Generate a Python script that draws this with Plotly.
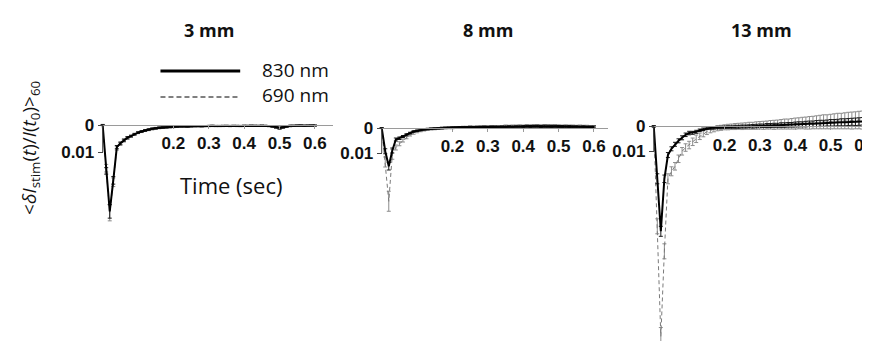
import plotly.graph_objects as go

# ---------------- data ----------------
TIME = [0.00, 0.01, 0.02, 0.03, 0.04, 0.05, 0.06, 0.07, 0.08, 0.09,
        0.10, 0.11, 0.12, 0.13, 0.14, 0.15, 0.16, 0.17, 0.18, 0.19,
        0.20, 0.21, 0.22, 0.23, 0.24, 0.25, 0.26, 0.27, 0.28, 0.29,
        0.30, 0.31, 0.32, 0.33, 0.34, 0.35, 0.36, 0.37, 0.38, 0.39,
        0.40, 0.41, 0.42, 0.43, 0.44, 0.45, 0.46, 0.47, 0.48, 0.49,
        0.50, 0.51, 0.52, 0.53, 0.54, 0.55, 0.56, 0.57, 0.58, 0.59,
        0.60]

PANELS = ["3 mm", "8 mm", "13 mm"]
SERIES = ["830 nm", "690 nm"]
X_TICKS = [0.2, 0.3, 0.4, 0.5, 0.6]
X_TICK_LABELS = ["0.2", "0.3", "0.4", "0.5", "0.6"]
Y_TICKS = [0, 0.01]
Y_TICK_LABELS = ["0", "0.01"]

# 3 mm
P1_830 = [0, .017, .032, .0205, .0082, .0068, .0056, .0047, .0041, .0034,
          .0028, .0024, .0020, .0017, .0014, .0012, .0010, .0009, .0008, .0007,
          .0006, .0006, .0005, .0005, .0006, .0005, .0004, .0004, .0005, .0004,
          .0004, .0003, .0004, .0004, .0003, .0003, .0004, .0003, .0003, .0004,
          .0003, .0003, .0002, .0003, .0003, .0002, .0003, .0004, .0005, .0008,
          .0011, .0008, .0005, .0003, .0003, .0002, .0002, .0003, .0002, .0002,
          .0002]
P1_690 = [0, .016, .0325, .0212, .0086, .0070, .0058, .0049, .0042, .0035,
          .0029, .0025, .0021, .0018, .0015, .0013, .0011, .0010, .0009, .0008,
          .0007, .0006, .0006, .0005, .0005, .0005, .0005, .0004, .0004, .0004,
          .0003, .0004, .0003, .0003, .0004, .0003, .0003, .0003, .0004, .0003,
          .0002, .0003, .0003, .0002, .0003, .0003, .0003, .0004, .0006, .0009,
          .0012, .0009, .0006, .0004, .0003, .0003, .0002, .0002, .0003, .0002,
          .0002]
E1_830 = [.0002, .0012, .0025, .0014, .0006, .0005, .0004, .0004, .0003, .0003,
          .0003, .0003, .0003, .0003, .0003, .0003, .0003, .0003, .0003, .0003,
          .0002, .0002, .0002, .0002, .0002, .0002, .0002, .0002, .0002, .0002,
          .0002, .0002, .0002, .0002, .0002, .0002, .0002, .0002, .0002, .0002,
          .0002, .0002, .0002, .0002, .0002, .0002, .0002, .0002, .0003, .0003,
          .0004, .0003, .0003, .0002, .0002, .0002, .0002, .0002, .0002, .0002,
          .0002]
E1_690 = [.0002, .0014, .0030, .0016, .0007, .0005, .0005, .0004, .0004, .0003,
          .0003, .0003, .0003, .0003, .0003, .0003, .0003, .0003, .0003, .0003,
          .0003, .0003, .0003, .0003, .0003, .0002, .0002, .0002, .0002, .0002,
          .0002, .0002, .0002, .0002, .0002, .0002, .0002, .0002, .0002, .0002,
          .0002, .0002, .0002, .0002, .0002, .0002, .0002, .0002, .0003, .0004,
          .0004, .0004, .0003, .0003, .0002, .0002, .0002, .0002, .0002, .0002,
          .0002]

# 8 mm
P2_830 = [0, .0093, .0153, .0090, .0046, .0041, .0034, .0027, .0020, .0014,
          .0011, .0008, .0005, .0004, .0003, .0002, .0001, 0, -.0001, -.0001,
          -.0002, -.0002, -.0003, -.0003, -.0003, -.0004, -.0003, -.0004, -.0004, -.0005,
          -.0004, -.0005, -.0005, -.0004, -.0005, -.0005, -.0006, -.0005, -.0006, -.0006,
          -.0006, -.0007, -.0006, -.0007, -.0007, -.0006, -.0007, -.0007, -.0006, -.0007,
          -.0006, -.0006, -.0005, -.0006, -.0005, -.0005, -.0004, -.0005, -.0004, -.0004,
          -.0004]
P2_690 = [0, .0136, .0293, .0105, .0078, .0063, .0050, .0038, .0028, .0021,
          .0015, .0011, .0008, .0006, .0004, .0003, .0002, .0001, 0, -.0001,
          -.0001, -.0002, -.0002, -.0003, -.0003, -.0004, -.0004, -.0004, -.0005, -.0005,
          -.0005, -.0006, -.0005, -.0006, -.0006, -.0007, -.0006, -.0007, -.0007, -.0008,
          -.0007, -.0008, -.0008, -.0008, -.0009, -.0008, -.0009, -.0008, -.0009, -.0008,
          -.0008, -.0007, -.0008, -.0007, -.0007, -.0006, -.0007, -.0006, -.0006, -.0005,
          -.0005]
E2_830 = [.0002, .0010, .0015, .0010, .0006, .0005, .0004, .0004, .0003, .0003,
          .0003, .0003, .0003, .0003, .0003, .0003, .0003, .0003, .0003, .0003,
          .0003, .0003, .0003, .0003, .0003, .0003, .0003, .0003, .0003, .0003,
          .0003, .0003, .0003, .0003, .0003, .0003, .0003, .0003, .0003, .0003,
          .0004, .0004, .0004, .0004, .0004, .0004, .0004, .0004, .0004, .0004,
          .0004, .0004, .0004, .0004, .0004, .0004, .0004, .0004, .0004, .0004,
          .0004]
E2_690 = [.0002, .0020, .0040, .0020, .0010, .0008, .0006, .0005, .0004, .0004,
          .0004, .0004, .0004, .0004, .0004, .0004, .0004, .0004, .0004, .0004,
          .0004, .0004, .0004, .0004, .0004, .0004, .0004, .0004, .0004, .0004,
          .0004, .0004, .0004, .0004, .0004, .0005, .0005, .0005, .0005, .0005,
          .0005, .0005, .0005, .0005, .0005, .0005, .0005, .0005, .0005, .0005,
          .0005, .0005, .0005, .0005, .0005, .0005, .0005, .0005, .0005, .0005,
          .0005]

# 13 mm
P3_830 = [0, .021, .042, .021, .0115, .0090, .0072, .0058, .0046, .0034,
          .0027, .0026, .0022, .0016, .0012, .0008, .0007, .0006, .0005, .0005,
          .0004, .0003, .0003, .0002, .0002, .0001, .0001, 0, 0, -.0001,
          -.0002, -.0002, -.0003, -.0003, -.0004, -.0004, -.0005, -.0005, -.0006, -.0006,
          -.0007, -.0008, -.0008, -.0009, -.0010, -.0010, -.0011, -.0012, -.0012, -.0013,
          -.0014, -.0014, -.0015, -.0016, -.0016, -.0017, -.0018, -.0018, -.0019, -.0020,
          -.0020]
P3_690 = [0, .040, .084, .050, .021, .018, .016, .013, .010, .0085,
          .0075, .0062, .0050, .0040, .0030, .0022, .0016, .0012, .0008, .0006,
          .0004, .0003, .0002, .0001, 0, 0, -.0001, -.0002, -.0002, -.0003,
          -.0004, -.0004, -.0005, -.0006, -.0006, -.0007, -.0008, -.0009, -.0009, -.0010,
          -.0011, -.0012, -.0013, -.0013, -.0014, -.0015, -.0016, -.0017, -.0018, -.0018,
          -.0019, -.0020, -.0021, -.0021, -.0022, -.0023, -.0023, -.0024, -.0025, -.0025,
          -.0026]
E3_830 = [.0003, .0020, .0020, .0015, .0010, .0008, .0008, .0008, .0008, .0007,
          .0007, .0006, .0006, .0005, .0005, .0005, .0005, .0005, .0005, .0005,
          .0005, .0005, .0005, .0006, .0006, .0006, .0006, .0006, .0007, .0007,
          .0007, .0007, .0008, .0008, .0008, .0008, .0009, .0009, .0009, .0009,
          .0010, .0010, .0010, .0011, .0011, .0011, .0012, .0012, .0012, .0012,
          .0013, .0013, .0013, .0014, .0014, .0014, .0014, .0015, .0015, .0015,
          .0015]
E3_690 = [.0003, .0030, .0035, .0030, .0020, .0018, .0015, .0015, .0015, .0015,
          .0015, .0015, .0015, .0013, .0012, .0011, .0010, .0010, .0010, .0010,
          .0010, .0011, .0011, .0012, .0012, .0013, .0013, .0014, .0014, .0015,
          .0015, .0016, .0016, .0017, .0018, .0018, .0019, .0020, .0020, .0021,
          .0022, .0022, .0023, .0024, .0025, .0025, .0026, .0027, .0028, .0028,
          .0029, .0030, .0031, .0031, .0032, .0033, .0034, .0034, .0035, .0036,
          .0036]

DATA = [
    (P1_830, E1_830, P1_690, E1_690),
    (P2_830, E2_830, P2_690, E2_690),
    (P3_830, E3_830, P3_690, E3_690),
]

# ---------------- layout geometry (pixels) ----------------
W, H = 870, 341
PX_PER_T = 355.0                 # pixels per second on x
Y0_PX = [117.0, 120.0, 118.3]    # pixel row of y = 0 in each panel
PX_PER_V = [2700.0, 2500.0, 2500.0]  # pixels per unit on y
X0_PX = [95.0, 375.0, 648.0]     # pixel column of t = 0
X_MAX = [0.65, 0.64, 0.6252]
TOP_PX = 95.0

TICK_FONT = dict(family="Liberation Sans", size=17, color="#111111", weight="bold")
TEXT_FONT = "Open Sans"

fig = go.Figure()
layout = dict(
    width=W, height=H,
    margin=dict(l=0, r=0, t=0, b=0),
    paper_bgcolor="white", plot_bgcolor="white",
    showlegend=False,
    font=dict(family=TEXT_FONT, color="#111111"),
)
shapes = []
annotations = []

for i, (s830, e830, s690, e690) in enumerate(DATA):
    k = "" if i == 0 else str(i + 1)
    xa, ya = "x" + k, "y" + k
    xmin = -0.01
    d0 = (X0_PX[i] + xmin * PX_PER_T) / W
    d1 = (X0_PX[i] + X_MAX[i] * PX_PER_T) / W
    vbot = (H - Y0_PX[i]) / PX_PER_V[i]
    vtop = -(Y0_PX[i] - TOP_PX) / PX_PER_V[i]

    # dashed 690 nm first (underneath)
    fig.add_trace(go.Scatter(
        x=TIME, y=s690, mode="lines", name=SERIES[1],
        line=dict(color="#7a7a7a", width=1, dash="4px,3px"),
        error_y=dict(type="data", array=e690, color="#8c8c8c", thickness=1, width=2),
        xaxis=xa, yaxis=ya))
    fig.add_trace(go.Scatter(
        x=TIME, y=s830, mode="lines", name=SERIES[0],
        line=dict(color="black", width=2),
        error_y=dict(type="data", array=e830, color="#1a1a1a", thickness=1, width=2),
        xaxis=xa, yaxis=ya))

    layout["xaxis" + k] = dict(
        domain=[d0, min(d1, 1.0)], range=[xmin, X_MAX[i]],
        anchor="free", position=1 - Y0_PX[i] / H,
        showline=True, linecolor="#9a9a9a", linewidth=1,
        showgrid=False, zeroline=False,
        tickmode="array", tickvals=X_TICKS, ticktext=X_TICK_LABELS,
        ticks="outside", ticklen=3, tickcolor="#9a9a9a",
        tickfont=TICK_FONT, ticklabeloverflow="allow",
    )
    layout["yaxis" + k] = dict(
        domain=[0, 1 - TOP_PX / H], range=[vbot, vtop],
        anchor="free", position=X0_PX[i] / W,
        showline=False, showgrid=False, zeroline=False,
        tickmode="array", tickvals=Y_TICKS, ticktext=Y_TICK_LABELS,
        ticks="outside", ticklen=5, tickcolor="#444444",
        tickfont=TICK_FONT, ticklabeloverflow="allow",
    )
    # short vertical axis segment from 0 to 0.01
    shapes.append(dict(type="line", xref=xa, yref=ya, x0=0, x1=0, y0=0, y1=0.01,
                       line=dict(color="#444444", width=1)))

# panel titles
TITLE_X = [202, 482, 756]
for name, tx in zip(PANELS, TITLE_X):
    annotations.append(dict(text="<b>" + name + "</b>", x=tx / W, y=1 - 22 / H,
                            xref="paper", yref="paper", showarrow=False,
                            xanchor="center", yanchor="middle",
                            font=dict(family=TEXT_FONT, size=18, color="#111111")))

# legend (drawn manually)
shapes.append(dict(type="line", xref="paper", yref="paper",
                   x0=153 / W, x1=233 / W, y0=1 - 63 / H, y1=1 - 63 / H,
                   line=dict(color="black", width=3)))
shapes.append(dict(type="line", xref="paper", yref="paper",
                   x0=153 / W, x1=233 / W, y0=1 - 89 / H, y1=1 - 89 / H,
                   line=dict(color="black", width=1, dash="5px,3px")))
for lab, yy in zip(SERIES, [62, 87]):
    annotations.append(dict(text=lab, x=253 / W, y=1 - yy / H, xref="paper", yref="paper",
                            showarrow=False, xanchor="left", yanchor="middle",
                            font=dict(family=TEXT_FONT, size=19, color="#111111")))

# x title
annotations.append(dict(text="Time (sec)", x=224 / W, y=1 - 177 / H, xref="paper", yref="paper",
                        showarrow=False, xanchor="center", yanchor="middle",
                        font=dict(family=TEXT_FONT, size=22, color="#111111")))
# y title
annotations.append(dict(
    text="&lt;<i>δI</i><sub>stim</sub>(<i>t</i>)/<i>I</i>(<i>t</i><sub>0</sub>)&gt;<sub>60</sub>",
    x=22 / W, y=1 - 140 / H, xref="paper", yref="paper", textangle=-90,
    showarrow=False, xanchor="center", yanchor="middle",
    font=dict(family=TEXT_FONT, size=19, color="#111111")))

layout["shapes"] = shapes
layout["annotations"] = annotations
fig.update_layout(**layout)
fig.write_html("out.html")
